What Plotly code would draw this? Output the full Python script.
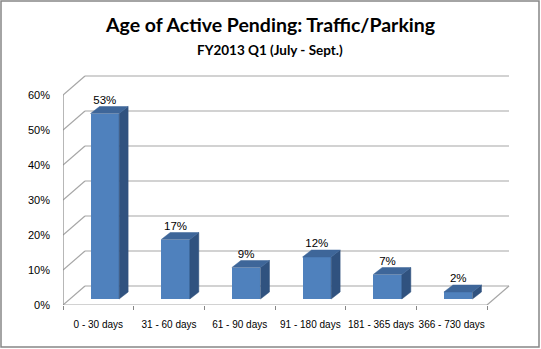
import plotly.graph_objects as go

# ---------------- data ----------------
categories = ["0 - 30 days", "31 - 60 days", "61 - 90 days",
              "91 - 180 days", "181 - 365 days", "366 - 730 days"]
values = [53, 17, 9, 12, 7, 2]
y_ticks = [0, 10, 20, 30, 40, 50, 60]
y_tick_labels = [f"{v}%" for v in y_ticks]
data_labels = [f"{v}%" for v in values]
title_text = "Age of Active Pending: Traffic/Parking"
subtitle_text = "FY2013 Q1 (July - Sept.)"

# ---------------- geometry (pixels) ----------------
W, H = 541, 349
L, R, T, B = 63, 29, 74, 44
PXX = 70.67          # px per category
PXY = 3.5            # px per percent
plot_w = W - L - R
plot_h = H - T - B

n = len(categories)
x_lo, x_hi = -0.5, n - 0.5
x_range = [x_lo, x_lo + plot_w / PXX]
y_range = [0, plot_h / PXY]


def ux(px):
    return px / PXX


def uy(px):
    return -px / PXY


wall_dx, wall_dy = ux(22), uy(-19)
bf_dx, bf_dy = ux(6.5), uy(-6)
bd_dx, bd_dy = ux(9), uy(-7)
bar_w = ux(28.6)
bar_left = ux(-7.8)
ymax = y_ticks[-1]
x_idx = list(range(n))

FRONT = "#4F81BD"
TOP = "#3E6699"
SIDE = "#30527F"
GRID = "#A6A6A6"
AXIS = "#868686"
FONT = "Liberation Sans"

shapes = []


def seg(x0, y0, x1, y1, color=GRID, width=1.2):
    shapes.append(dict(type="line", xref="x", yref="y", x0=x0, y0=y0, x1=x1, y1=y1,
                       line=dict(color=color, width=width), layer="below"))


for t in y_ticks:
    seg(x_lo + wall_dx, t + wall_dy, x_hi + wall_dx, t + wall_dy)
    seg(x_lo, t, x_lo + wall_dx, t + wall_dy)
seg(x_lo, 0, x_hi, 0)
seg(x_hi, 0, x_hi + wall_dx, wall_dy)
seg(x_lo, 0, x_lo, ymax, color=AXIS, width=1.2)


def px2paper_x(px):
    return (px - L) / plot_w


def px2paper_y(py):
    return (H - B - py) / plot_h


shapes.append(dict(type="rect", xref="paper", yref="paper",
                   x0=px2paper_x(1), x1=px2paper_x(539),
                   y0=px2paper_y(347), y1=px2paper_y(1),
                   line=dict(color="#868686", width=1.5), layer="above"))

fig = go.Figure()

# front faces
fig.add_trace(go.Bar(x=x_idx, y=values, base=bf_dy, width=bar_w, offset=bar_left,
                     marker=dict(color=FRONT, line=dict(width=0)), hoverinfo="skip",
                     showlegend=False))

side_x, side_y, top_x, top_y = [], [], [], []
for i, v in enumerate(values):
    xl = i + bar_left
    xr = xl + bar_w
    b = bf_dy
    side_x += [xr, xr + bd_dx, xr + bd_dx, xr, xr, None]
    side_y += [b, b + bd_dy, b + v + bd_dy, b + v, b, None]
    top_x += [xl, xl + bd_dx, xr + bd_dx, xr, xl, None]
    top_y += [b + v, b + v + bd_dy, b + v + bd_dy, b + v, b + v, None]

fig.add_trace(go.Scatter(x=side_x, y=side_y, mode="lines", fill="toself",
                         fillcolor=SIDE, line=dict(color=SIDE, width=0.5),
                         hoverinfo="skip", showlegend=False))
fig.add_trace(go.Scatter(x=top_x, y=top_y, mode="lines", fill="toself",
                         fillcolor=TOP, line=dict(color=TOP, width=0.5),
                         hoverinfo="skip", showlegend=False))

# data labels
fig.add_trace(go.Scatter(
    x=[i + bar_left + bar_w / 2 for i in x_idx],
    y=[bf_dy + v + bd_dy for v in values],
    text=data_labels, mode="text", textposition="top center",
    textfont=dict(family=FONT, size=11.5, color="#000000"),
    cliponaxis=False, hoverinfo="skip", showlegend=False))

annotations = [
    dict(text=f"<b>{title_text}</b>", xref="paper", yref="paper",
         x=px2paper_x(270), y=px2paper_y(25), xanchor="center", yanchor="middle",
         showarrow=False, font=dict(family="Lato", size=19.5, color="#000000")),
    dict(text=f"<b>{subtitle_text}</b>", xref="paper", yref="paper",
         x=px2paper_x(270), y=px2paper_y(50), xanchor="center", yanchor="middle",
         showarrow=False, font=dict(family="Lato", size=13.5, color="#000000")),
]

fig.update_layout(
    width=W, height=H,
    margin=dict(l=L, r=R, t=T, b=B, pad=0, autoexpand=False),
    paper_bgcolor="white", plot_bgcolor="white",
    shapes=shapes, annotations=annotations,
    showlegend=False, bargap=0,
    xaxis=dict(range=x_range, tickvals=x_idx, ticktext=categories,
               showgrid=False, zeroline=False, showline=False, ticks="",
               tickangle=0, automargin=False,
               ticklabelstandoff=12,
               tickfont=dict(family=FONT, size=10, color="#000000"),
               minor=dict(tickvals=[k - 0.5 for k in range(n + 1)], ticks="outside",
                          ticklen=4, tickcolor=AXIS, tickwidth=1, showgrid=False),
               fixedrange=True),
    yaxis=dict(range=y_range, tickvals=y_ticks, ticktext=y_tick_labels,
               showgrid=False, zeroline=False, showline=False, ticks="",
               automargin=False,
               ticklabelstandoff=12,
               tickfont=dict(family=FONT, size=11, color="#000000"),
               fixedrange=True),
)

fig.write_html("out.html")
